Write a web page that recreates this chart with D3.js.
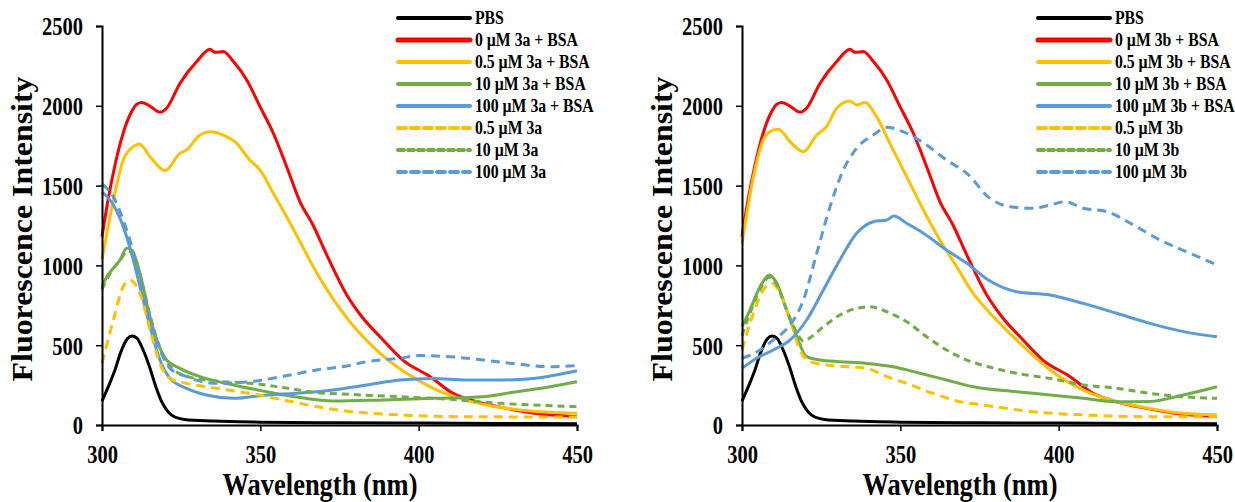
<!DOCTYPE html>
<html><head><meta charset="utf-8">
<script src="https://cdn.jsdelivr.net/npm/d3@7"></script>
<style>
html,body{margin:0;padding:0;background:#fff;}
svg{display:block;}
text{font-family:"Liberation Serif","Times New Roman",serif;font-weight:bold;fill:#000;}
</style></head>
<body>
<svg id="chart" width="1235" height="502"></svg>
<script>
// ---------- DATA ----------
const xTicks = [300, 350, 400, 450];
const yTicks = [0, 500, 1000, 1500, 2000, 2500];
const xTitle = "Wavelength (nm)";
const yTitle = "Fluorescence Intensity";

const pbs = [[300,150],[302,240],[304,340],[306,460],[308,540],[309.5,558],[311,545],[313,470],[315,365],[317,240],[319,140],[321,80],[323,50],[326,35],[335,25],[350,18],[375,14],[400,12],[425,10],[450,8]];
const bsa = [[300,1180],[302,1420],[304,1620],[306.7,1830],[309,1950],[311,2010],[312.5,2020],[315,2000],[318.3,1960],[320.4,1985],[324.6,2140],[329.9,2277],[334.1,2354],[335.7,2335],[338.3,2340],[341.5,2277],[345.7,2162],[349.9,1995],[354.1,1828],[358.3,1619],[362.5,1400],[366.7,1250],[371,1065],[377.3,815],[382,680],[387.8,553],[395,407],[403.6,303],[410.9,198],[418.3,146],[427.8,104],[436,75],[450,52]];

// 3a
const a05bsa = [[300,1040],[302,1250],[303.6,1410],[306.7,1660],[309.9,1744],[311.8,1761],[315.2,1681],[319.9,1594],[324.6,1702],[326.7,1723],[330.9,1817],[334.1,1838],[338.3,1817],[342,1775],[346.7,1660],[349.9,1598],[354.1,1452],[358.3,1305],[362.5,1150],[366.7,992],[371,850],[379.4,620],[387.8,449],[396.2,324],[404.6,230],[413,167],[421.5,125],[432,94],[450,73]];
const a10bsa = [[300,866],[301.5,929],[303.6,982],[305.7,1034],[307.8,1107],[309.4,1096],[312,950],[314.6,720],[317.3,533],[320.4,407],[324.6,355],[330.9,303],[341.5,251],[352,209],[362.5,172],[373,150],[388.8,157],[404.6,167],[420.4,177],[431,209],[441.5,240],[450,271]];
const a100bsa = [[300,1460],[303.6,1378],[306.7,1243],[309.9,1034],[312,866],[315.2,616],[318.3,407],[321.5,292],[326.7,230],[333,188],[341.5,167],[352,188],[362.5,200],[373,219],[383.6,251],[394,282],[404.6,292],[415.2,282],[425.7,282],[436.2,292],[450,340]];
const a05 = [[300,386],[303.6,658],[306.7,866],[308.8,908],[312,825],[315.2,595],[318.3,386],[321.5,292],[326.7,261],[336.2,230],[346.7,198],[357.3,157],[367.8,115],[378.3,85],[394,63],[415,52],[450,50]];
const a10 = [[300,850],[302,930],[304,990],[306,1040],[308,1090],[309.5,1080],[312,940],[315,700],[318,500],[321,380],[326,310],[336,275],[346.7,262],[357.3,235],[367,205],[378.3,192],[394,177],[409.8,161],[425.7,136],[450,115]];
const a100 = [[300,1510],[303.6,1430],[306.7,1284],[308.8,1159],[312,908],[315.2,658],[318.3,470],[321.5,355],[326.7,303],[336.2,261],[346.7,271],[357.3,305],[367.8,345],[377.3,370],[383.6,397],[394,418],[400.3,435],[409.8,428],[420.4,407],[431,382],[441.5,365],[450,372]];

// 3b
const b05bsa = [[300,1138],[303.6,1556],[306.7,1786],[309,1840],[311.5,1853],[315.2,1775],[319.4,1712],[323.6,1817],[326.7,1869],[329.9,1984],[334.1,2030],[336.2,2005],[338.8,2020],[342.5,1932],[346.7,1765],[352,1556],[357.3,1347],[362.5,1159],[367.8,992],[373,825],[377,730],[386.7,533],[397.3,345],[407.8,219],[418.3,146],[428.8,104],[439.4,73],[450,63]];
const b10bsa = [[300,616],[302.5,720],[305.7,866],[308.6,940],[311,888],[314.1,720],[317.3,553],[320.4,428],[324.6,407],[330.9,397],[339.4,386],[347.8,365],[356.2,324],[364.6,282],[373,240],[386.7,209],[397.3,188],[407.8,167],[418.3,146],[428.8,148],[439.4,188],[450,240]];
const b100bsa = [[300,355],[304.6,418],[309.9,470],[315.2,533],[320.4,658],[325.7,846],[330.9,1034],[336.2,1201],[341.5,1274],[345.7,1284],[348,1309],[352,1264],[357.3,1201],[364.6,1096],[371,1013],[377.8,908],[386.7,835],[397.3,815],[407.8,762],[418.3,700],[428.8,637],[439.4,585],[450,553]];
const b05 = [[300,470],[303.6,700],[306.7,846],[309.4,888],[312,825],[315.2,658],[318.3,470],[321.5,397],[326.7,376],[333,365],[339.4,355],[345.7,303],[352,261],[360.4,198],[368.8,146],[376.2,125],[392,83],[407.8,63],[428,52],[450,52]];
const b10 = [[300,560],[302.5,700],[305.7,850],[308.6,925],[311,880],[314.1,720],[317.3,580],[319.4,525],[320.4,533],[325.7,616],[330.9,689],[336.2,731],[340.4,741],[345.7,710],[352,647],[358.3,553],[364.6,470],[371,407],[377.8,365],[386.7,324],[397.3,292],[407.8,251],[418.3,230],[428.8,198],[439.4,177],[450,167]];
const b100 = [[300,418],[305.7,470],[309.9,533],[315.2,627],[319.4,783],[323.6,1076],[327.8,1368],[332,1598],[336.2,1734],[341.5,1817],[345.7,1865],[352,1828],[358.3,1754],[364.6,1660],[371,1577],[378.3,1420],[384.6,1368],[392,1358],[397.3,1378],[402,1399],[407.8,1358],[415.2,1337],[423.6,1253],[432,1159],[441.5,1076],[450,1003]];

const labelsA = ["PBS","0 µM 3a + BSA","0.5 µM 3a + BSA","10 µM 3a + BSA","100 µM 3a + BSA","0.5 µM 3a","10 µM 3a","100 µM 3a"];
const labelsB = ["PBS","0 µM 3b + BSA","0.5 µM 3b + BSA","10 µM 3b + BSA","100 µM 3b + BSA","0.5 µM 3b","10 µM 3b","100 µM 3b"];
const seriesA = [pbs, bsa, a05bsa, a10bsa, a100bsa, a05, a10, a100];
const seriesB = [pbs, bsa, b05bsa, b10bsa, b100bsa, b05, b10, b100];

// ---------- STYLE ----------
const colors = ["#000000","#FF0000","#FFC000","#70AD47","#5B9BD5","#FFC000","#70AD47","#5B9BD5"];
const dashes = [null,null,null,null,null,"9,6","7,5","9,6"];
const legDashes = [null,null,null,null,null,"8,5","6,4","8,5"];

const svg = d3.select("#chart");

function naturalWidth(str, size){
  const t = svg.append("text").style("font-size",size+"px").text(str);
  const w = t.node().getComputedTextLength();
  t.remove();
  return w;
}
// the reference glyphs are tall and narrow: draw at full size, squeeze horizontally around the anchor
function squeeze(sel, f){
  sel.each(function(){
    const el = d3.select(this);
    const ax = +el.attr("x") || 0;
    const old = el.attr("transform") || "";
    el.attr("transform", `${old} translate(${ax},0) scale(${f},1) translate(${-ax},0)`);
  });
}
const tickSize = 26, tickFactor = 41 / naturalWidth("2500", tickSize);
const legSize = 19, legFactor = 103 / naturalWidth("0 µM 3a + BSA", legSize);
const xtSize = 31, xtFactor = 195 / naturalWidth(xTitle, xtSize);
const ytSize = 29, ytFactor = 305 / naturalWidth(yTitle, ytSize);

function panel(opts){
  const {x0, x1, series, labels, legX} = opts;
  const x = d3.scaleLinear().domain([300,450]).range([x0,x1]);
  const y = d3.scaleLinear().domain([0,2500]).range([425,26]);
  const g = svg.append("g");

  const line = d3.line().x(d=>x(d[0])).y(d=>y(d[1])).curve(d3.curveMonotoneX);
  series.forEach((s,i)=>{
    g.append("path").datum(s).attr("d",line)
      .attr("fill","none").attr("stroke",colors[i]).attr("stroke-width",3)
      .attr("stroke-linejoin","round")
      .attr("stroke-dasharray",dashes[i]);
  });

  const xa = g.append("g").attr("transform","translate(0,425)")
    .call(d3.axisBottom(x).tickValues(xTicks).tickSize(6).tickPadding(6).tickFormat(d3.format("d")));
  const ya = g.append("g").attr("transform",`translate(${x0},0)`)
    .call(d3.axisLeft(y).tickValues(yTicks).tickSize(6).tickPadding(13).tickFormat(d3.format("d")));
  [xa,ya].forEach(a=>{
    a.select(".domain").attr("stroke","#000").attr("stroke-width",2);
    a.selectAll(".tick line").attr("stroke","#000").attr("stroke-width",1.5);
    a.selectAll("text").style("font-family","'Liberation Serif',serif").style("font-weight","bold")
      .style("font-size",tickSize+"px").attr("fill","#000");
  });
  xa.selectAll("text").attr("y",38).attr("dy",null);
  ya.selectAll("text").attr("dy","0.34em");
  squeeze(xa.selectAll("text"), tickFactor);
  squeeze(ya.selectAll("text"), tickFactor);

  const cx = x0 + 218;
  const xt = g.append("text").attr("x",cx).attr("y",495).attr("text-anchor","middle")
    .style("font-size",xtSize+"px").text(xTitle);
  squeeze(xt, xtFactor);
  g.append("text").attr("transform",`translate(${x0-70},229) rotate(-90) scale(${ytFactor},1)`)
    .attr("text-anchor","middle").style("font-size",ytSize+"px").text(yTitle);

  // legend
  const lg = g.append("g");
  labels.forEach((lab,i)=>{
    const yy = 18 + i*22;
    lg.append("line").attr("x1",legX).attr("x2",legX+72).attr("y1",yy).attr("y2",yy)
      .attr("stroke",colors[i]).attr("stroke-width", i===1?5:4).attr("stroke-linecap","round")
      .attr("stroke-dasharray",legDashes[i]);
    const t = lg.append("text").attr("x",legX+77).attr("y",yy).attr("dy","0.34em")
      .style("font-size",legSize+"px").text(lab);
    squeeze(t, legFactor);
  });
}

panel({x0:102, x1:577, series:seriesA, labels:labelsA, legX:398});
panel({x0:742, x1:1217, series:seriesB, labels:labelsB, legX:1038});
</script>
</body></html>
